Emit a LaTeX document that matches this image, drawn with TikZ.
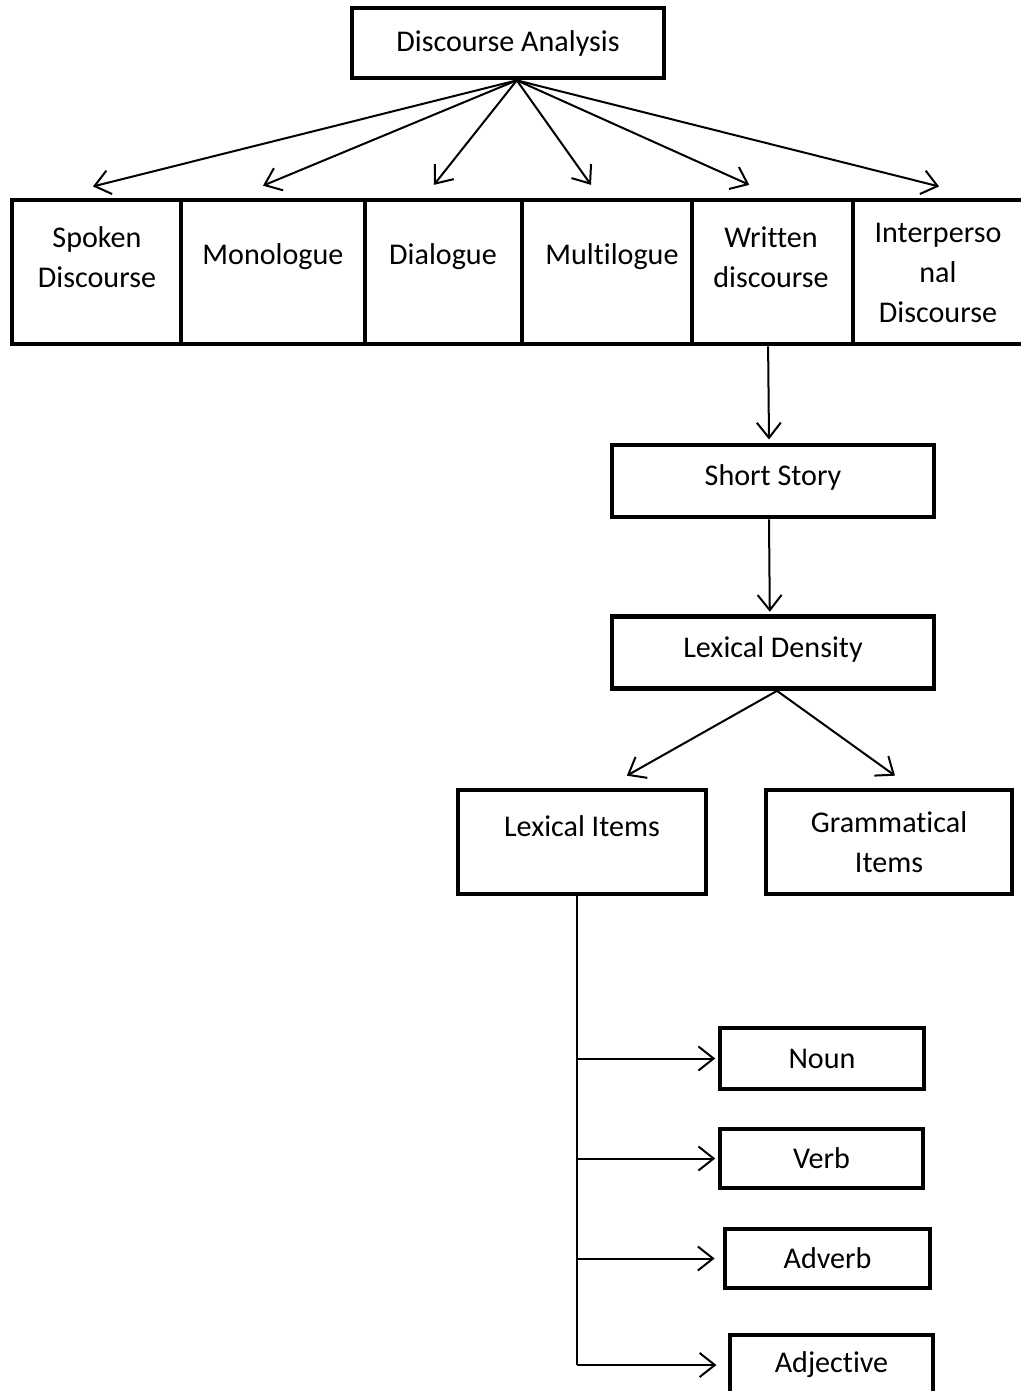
\documentclass[tikz,border=0pt]{standalone}
\usepackage{fontspec}
\setmainfont{Carlito}[Ligatures=NoCommon]
\usetikzlibrary{arrows.meta}

\tikzset{
  box/.style={draw, line width=0.058cm, inner sep=0pt, align=center},
  txt/.style={inner sep=0pt, align=center},
  line/.style={line width=0.025cm},
  arr/.style={line width=0.025cm, -{Straight Barb[length=0.19cm, width=0.3cm, line width=0.025cm]}}
}

\begin{document}
\begin{tikzpicture}[x=0.0125cm, y=-0.0125cm, font=\fontsize{10.7}{14.2}\selectfont]
        \useasboundingbox (0,0) rectangle (1021,1391);

        % Root
        \node[box, minimum width=3.9cm, minimum height=0.875cm] (da) at (508,43) {Discourse Analysis};

        % Kinds of discourse
        \node[box, minimum width=2.1125cm, minimum height=1.8cm] (spoken) at (96.5,272) {};
        \node[box, minimum width=2.3cm, minimum height=1.8cm] (mono) at (273,272) {};
        \node[box, minimum width=1.9625cm, minimum height=1.8cm] (dia) at (443.5,272) {};
        \node[box, minimum width=2.125cm, minimum height=1.8cm] (multi) at (607,272) {};
        \node[box, minimum width=2.0125cm, minimum height=1.8cm] (written) at (772.5,272) {};
        \node[box, minimum width=2.2125cm, minimum height=1.8cm] (inter) at (941.5,272) {};

        \node[txt] (spoken-t) at (97,257) {Spoken\\Discourse};
        \node[txt] (mono-t) at (273,257) {Monologue};
        \node[txt] (dia-t) at (443,257) {Dialogue};
        \node[txt] (multi-t) at (612,257) {Multilogue};
        \node[txt] (written-t) at (771,257) {Written\\discourse};
        \node[txt] (inter-t) at (938,273) {Interperso\\nal\\Discourse};

        % Written branch
        \node[box, minimum width=4.025cm, minimum height=0.9cm] (story) at (773,481) {};
        \node[txt] (story-t) at (773,477) {Short Story};
        \node[box, minimum width=4.025cm, minimum height=0.9cm] (density) at (773,652.5) {};
        \node[txt] (density-t) at (773,649) {Lexical Density};

        % Items
        \node[box, minimum width=3.1cm, minimum height=1.3cm] (lexical) at (582,842) {};
        \node[txt] (lexical-t) at (582,826) {Lexical Items};
        \node[box, minimum width=3.075cm, minimum height=1.3cm] (gram) at (889,842) {Grammatical\\Items};

        % Word classes
        \node[box, minimum width=2.55cm, minimum height=0.7625cm] (noun) at (822,1058.5) {Noun};
        \node[box, minimum width=2.5375cm, minimum height=0.7375cm] (verb) at (821.5,1158.5) {Verb};
        \node[box, minimum width=2.5625cm, minimum height=0.7375cm] (adverb) at (827.5,1258.5) {Adverb};
        \node[box, minimum width=2.5375cm, minimum height=0.75cm] (adjective) at (831.5,1365) {Adjective};

        % Connections
        \coordinate (top) at ([xshift=0.11cm]da.south);
        \draw[arr] (top) -- ([xshift=-0.045cm, yshift=0.14cm]spoken.north);
        \draw[arr] (top) -- ([xshift=-0.125cm, yshift=0.15cm]mono.north);
        \draw[arr] (top) -- ([xshift=-0.12cm, yshift=0.16cm]dia.north);
        \draw[arr] (top) -- ([xshift=-0.2cm, yshift=0.16cm]multi.north);
        \draw[arr] (top) -- ([xshift=-0.29cm, yshift=0.16cm]written.north);
        \draw[arr] (top) -- ([xshift=-0.03cm, yshift=0.14cm]inter.north);

        \draw[arr] ([xshift=-0.055cm]written.south) -- ([xshift=-0.05cm, yshift=0.04cm]story.north);
        \draw[arr] ([xshift=-0.05cm]story.south) -- ([xshift=-0.04cm, yshift=0.03cm]density.north);
        \draw[arr] ([xshift=0.05cm]density.south) -- ([xshift=0.56cm, yshift=0.15cm]lexical.north);
        \draw[arr] ([xshift=0.05cm]density.south) -- ([xshift=0.075cm, yshift=0.15cm]gram.north);

        \coordinate (trunk) at ([xshift=-0.06cm]lexical.south);
        \draw[line] (trunk) -- (trunk |- adjective.west);
        \draw[arr] (trunk |- noun.west) -- ([xshift=-0.03cm]noun.west);
        \draw[arr] (trunk |- verb.west) -- ([xshift=-0.03cm]verb.west);
        \draw[arr] (trunk |- adverb.west) -- ([xshift=-0.1cm]adverb.west);
        \draw[arr] (trunk |- adjective.west) -- ([xshift=-0.14cm]adjective.west);
    \end{tikzpicture}
\end{document}
